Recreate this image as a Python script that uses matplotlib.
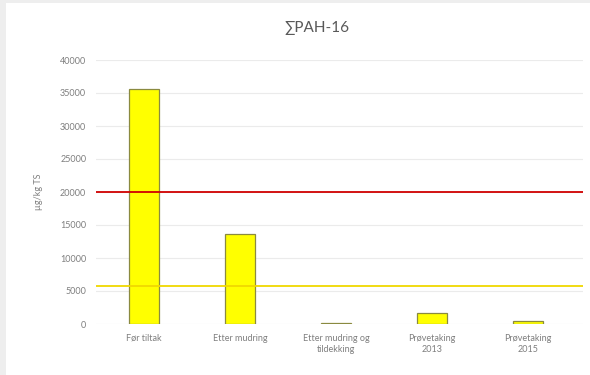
import numpy as np
import matplotlib.pyplot as plt
from matplotlib.patches import Rectangle

# data
kategorier = ["Før tiltak", "Etter mudring", "Etter mudring og\ntildekking",
              "Prøvetaking\n2013", "Prøvetaking\n2015"]
verdier = [35600, 13600, 150, 1600, 450]
grense_rod = 20000
grense_gul = 5800
y_ticks = [0, 5000, 10000, 15000, 20000, 25000, 30000, 35000, 40000]

plt.rcParams['font.family'] = ['Lato', 'DejaVu Sans']
grå = "#7f7f7f"

fig = plt.figure(figsize=(5.9, 3.75), dpi=100)
fig.patch.set_facecolor("white")
# grå kant øverst og til venstre
fig.patches.append(Rectangle((0, 0), 6/590, 1, transform=fig.transFigure,
                             facecolor="#eeeeee", edgecolor="none", zorder=-1))
fig.patches.append(Rectangle((0, 1-3/375), 1, 3/375, transform=fig.transFigure,
                             facecolor="#eeeeee", edgecolor="none", zorder=-1))

ax = fig.add_axes([96/590, 1-324/375, (583-96)/590, (324-60)/375])
x = np.arange(len(kategorier))
ax.bar(x, verdier, width=0.31, color="#ffff00", edgecolor="#8a8a40",
       linewidth=0.9, zorder=3)
ax.axhline(grense_rod, color="#d00000", linewidth=1.3, zorder=4)
ax.axhline(grense_gul, color="#f0d800", linewidth=1.3, zorder=4)

ax.set_xlim(-0.5, 4.57)
ax.set_ylim(0, 40000)
ax.set_yticks(y_ticks)
ax.set_yticklabels([str(v) for v in y_ticks], fontsize=6.5, color=grå)
ax.set_xticks(x)
ax.set_xticklabels(kategorier, fontsize=6.5, color=grå, linespacing=1.3)
ax.tick_params(length=0, pad=7)
ax.grid(axis="y", color="#ebebeb", linewidth=0.8, zorder=0)
for s in ax.spines.values():
    s.set_visible(False)
ax.set_ylabel("µg/kg TS", fontsize=6.5, color=grå, labelpad=12)

fig.text(317/590, 1-28/375, "∑PAH-16", ha="center", va="center",
         fontsize=11, color="#595959")

fig.savefig("out.png", dpi=100)
